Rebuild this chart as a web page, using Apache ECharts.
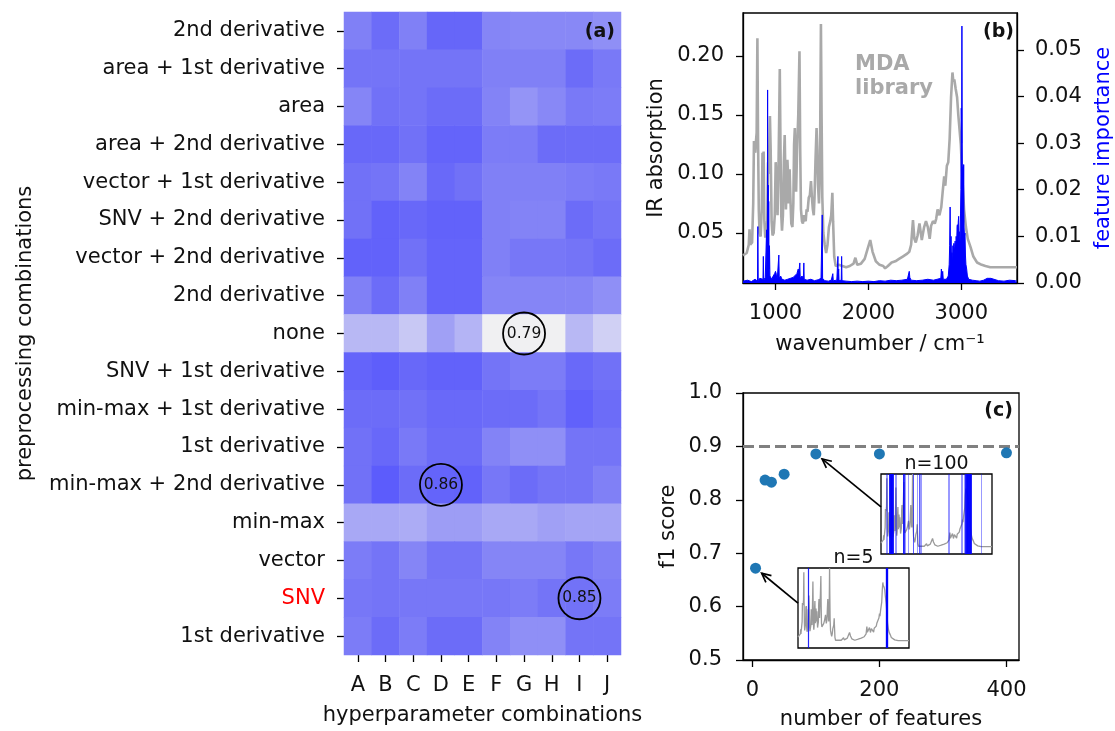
<!DOCTYPE html>
<html>
<head>
<meta charset="utf-8">
<script src="https://cdn.jsdelivr.net/npm/echarts@6/dist/echarts.min.js"></script>
<style>
  html, body { margin: 0; padding: 0; background: #ffffff; }
  #chart { width: 1115px; height: 731px; }
</style>
</head>
<body>
<div id="chart"></div>
<script>
// ---------- (a) f1 scores per preprocessing / hyperparameter combination ----------
const hyperparams = ['A', 'B', 'C', 'D', 'E', 'F', 'G', 'H', 'I', 'J'];
const preprocessing = [
  '2nd derivative', 'area + 1st derivative', 'area', 'area + 2nd derivative',
  'vector + 1st derivative', 'SNV + 2nd derivative', 'vector + 2nd derivative',
  '2nd derivative', 'none', 'SNV + 1st derivative', 'min-max + 1st derivative',
  '1st derivative', 'min-max + 2nd derivative', 'min-max', 'vector', 'SNV',
  '1st derivative'
];
// one row per preprocessing combination (top to bottom), columns A..J
const scoreRows = [
  [0.844, 0.854, 0.844, 0.858, 0.858, 0.842, 0.841, 0.841, 0.841, 0.838],
  [0.849, 0.849, 0.849, 0.849, 0.849, 0.844, 0.844, 0.844, 0.854, 0.847],
  [0.842, 0.851, 0.849, 0.854, 0.854, 0.843, 0.836, 0.841, 0.847, 0.846],
  [0.857, 0.857, 0.851, 0.860, 0.860, 0.846, 0.846, 0.854, 0.854, 0.854],
  [0.851, 0.849, 0.843, 0.856, 0.851, 0.844, 0.844, 0.844, 0.846, 0.847],
  [0.851, 0.861, 0.857, 0.861, 0.861, 0.844, 0.843, 0.843, 0.854, 0.849],
  [0.861, 0.861, 0.851, 0.860, 0.860, 0.844, 0.848, 0.848, 0.849, 0.854],
  [0.844, 0.854, 0.844, 0.860, 0.860, 0.842, 0.842, 0.842, 0.842, 0.838],
  [0.819, 0.819, 0.811, 0.831, 0.821, 0.790, 0.790, 0.790, 0.819, 0.807],
  [0.860, 0.864, 0.857, 0.861, 0.861, 0.849, 0.846, 0.846, 0.856, 0.851],
  [0.854, 0.854, 0.851, 0.856, 0.856, 0.854, 0.854, 0.849, 0.862, 0.854],
  [0.851, 0.857, 0.847, 0.854, 0.854, 0.843, 0.838, 0.838, 0.849, 0.849],
  [0.851, 0.865, 0.854, 0.860, 0.861, 0.848, 0.854, 0.849, 0.849, 0.844],
  [0.827, 0.827, 0.825, 0.832, 0.832, 0.827, 0.827, 0.831, 0.829, 0.829],
  [0.846, 0.849, 0.842, 0.849, 0.849, 0.842, 0.842, 0.842, 0.848, 0.844],
  [0.848, 0.849, 0.848, 0.848, 0.848, 0.848, 0.846, 0.849, 0.850, 0.846],
  [0.846, 0.854, 0.846, 0.854, 0.854, 0.843, 0.838, 0.838, 0.849, 0.849]
];
// circled cells: [column index, row index]
const circledCells = [[6, 8], [3, 12], [8, 15]];

// ---------- (b) MDA library spectrum and feature importance ----------
const irSpectrum = [
  [650,0.031],[690,0.033],[712,0.040],[720,0.053],[728,0.040],[748,0.042],[760,0.075],[768,0.128],
  [775,0.122],[782,0.118],[790,0.128],[797,0.135],[805,0.215],[812,0.130],[820,0.070],[828,0.050],
  [840,0.047],[852,0.070],[860,0.118],[866,0.112],[872,0.119],[880,0.060],[890,0.046],[900,0.047],
  [912,0.060],[920,0.110],[928,0.100],[935,0.130],[940,0.149],[948,0.120],[958,0.060],[968,0.048],
  [980,0.050],[992,0.065],[1002,0.110],[1012,0.090],[1022,0.065],[1032,0.105],[1040,0.150],[1046,0.189],
  [1054,0.120],[1062,0.065],[1070,0.052],[1080,0.065],[1090,0.110],[1099,0.133],[1106,0.100],[1112,0.070],
  [1120,0.090],[1128,0.112],[1135,0.100],[1142,0.075],[1152,0.104],[1160,0.080],[1170,0.058],[1182,0.055],
  [1192,0.075],[1200,0.125],[1208,0.139],[1214,0.110],[1222,0.085],[1232,0.120],[1245,0.150],[1258,0.204],
  [1266,0.120],[1274,0.070],[1285,0.060],[1295,0.058],[1305,0.065],[1315,0.062],[1325,0.060],[1335,0.070],
  [1345,0.068],[1358,0.080],[1370,0.082],[1382,0.094],[1392,0.080],[1402,0.070],[1412,0.065],[1420,0.080],
  [1430,0.110],[1442,0.139],[1450,0.120],[1458,0.090],[1468,0.075],[1478,0.100],[1489,0.227],[1496,0.150],
  [1504,0.080],[1515,0.050],[1530,0.040],[1545,0.033],[1560,0.040],[1575,0.055],[1590,0.060],[1600,0.065],
  [1612,0.084],[1620,0.060],[1632,0.030],[1648,0.022],[1680,0.023],[1720,0.022],[1760,0.021],[1800,0.022],
  [1840,0.024],[1860,0.029],[1880,0.023],[1920,0.024],[1960,0.028],[1990,0.036],[2020,0.044],[2045,0.034],
  [2080,0.026],[2120,0.023],[2160,0.022],[2180,0.020],[2210,0.022],[2250,0.025],[2290,0.026],[2330,0.028],
  [2370,0.030],[2410,0.032],[2440,0.034],[2460,0.040],[2480,0.061],[2495,0.045],[2510,0.042],[2530,0.048],
  [2550,0.058],[2575,0.044],[2600,0.055],[2620,0.060],[2640,0.055],[2660,0.045],[2675,0.056],[2695,0.060],
  [2715,0.058],[2730,0.062],[2745,0.070],[2765,0.065],[2785,0.072],[2800,0.085],[2816,0.098],[2828,0.090],
  [2845,0.107],[2860,0.110],[2875,0.130],[2890,0.165],[2905,0.186],[2915,0.178],[2925,0.180],[2940,0.172],
  [2955,0.165],[2968,0.150],[2980,0.150],[2995,0.125],[3011,0.098],[3030,0.070],[3050,0.055],[3070,0.045],
  [3100,0.038],[3130,0.030],[3170,0.025],[3220,0.023],[3260,0.022],[3312,0.021],[3400,0.021],[3500,0.021],
  [3600,0.021]
];
const featureImportance = [
  [650,0.0004],[700,0.0006],[740,0.0003],[780,0.0008],[800,0.0010],[806,0.0004],[810,0.0121],[814,0.0005],
  [830,0.0010],[850,0.0006],[865,0.0008],[869,0.0057],[873,0.0006],[890,0.0012],[900,0.0010],[904,0.0114],
  [907,0.0020],[912,0.0060],[915,0.0414],[918,0.0030],[921,0.0210],[924,0.0040],[927,0.0175],[930,0.0030],
  [935,0.0080],[940,0.0015],[950,0.0012],[960,0.0008],[975,0.0015],[990,0.0020],[1000,0.0025],[1010,0.0018],
  [1020,0.0012],[1032,0.0010],[1036,0.0060],[1040,0.0010],[1055,0.0015],[1070,0.0008],[1085,0.0012],[1100,0.0006],
  [1130,0.0008],[1160,0.0010],[1190,0.0012],[1210,0.0015],[1230,0.0020],[1245,0.0030],[1250,0.0020],[1262,0.0043],
  [1266,0.0010],[1285,0.0015],[1300,0.0010],[1305,0.0043],[1309,0.0008],[1340,0.0006],[1380,0.0008],[1420,0.0005],
  [1460,0.0007],[1490,0.0010],[1500,0.0008],[1503,0.0146],[1507,0.0010],[1530,0.0005],[1570,0.0004],[1600,0.0006],
  [1617,0.0020],[1622,0.0005],[1660,0.0006],[1672,0.0057],[1676,0.0010],[1680,0.0030],[1684,0.0005],[1708,0.0006],
  [1712,0.0057],[1716,0.0005],[1760,0.0004],[1820,0.0003],[1880,0.0004],[1940,0.0003],[2000,0.0004],[2060,0.0003],
  [2120,0.0005],[2180,0.0004],[2240,0.0006],[2300,0.0005],[2360,0.0006],[2420,0.0008],[2440,0.0025],[2446,0.0012],
  [2460,0.0006],[2520,0.0005],[2580,0.0006],[2640,0.0008],[2700,0.0006],[2740,0.0008],[2780,0.0010],[2786,0.0030],
  [2790,0.0010],[2800,0.0025],[2806,0.0008],[2840,0.0008],[2860,0.0015],[2870,0.0040],[2875,0.0080],[2880,0.0163],
  [2884,0.0060],[2890,0.0100],[2895,0.0050],[2900,0.0065],[2905,0.0040],[2910,0.0080],[2915,0.0060],[2920,0.0085],
  [2925,0.0060],[2929,0.0079],[2934,0.0090],[2940,0.0070],[2945,0.0100],[2950,0.0080],[2955,0.0120],[2958,0.0125],
  [2962,0.0090],[2967,0.0130],[2972,0.0143],[2976,0.0100],[2982,0.0110],[2987,0.0090],[2992,0.0150],[2996,0.0200],
  [3000,0.0375],[3004,0.0300],[3007,0.0551],[3011,0.0250],[3015,0.0200],[3018,0.0250],[3022,0.0150],[3026,0.0254],
  [3030,0.0120],[3035,0.0100],[3040,0.0107],[3045,0.0060],[3050,0.0040],[3058,0.0030],[3066,0.0015],[3080,0.0008],
  [3120,0.0006],[3160,0.0005],[3200,0.0004],[3240,0.0006],[3280,0.0010],[3300,0.0012],[3319,0.0010],[3340,0.0008],
  [3400,0.0005],[3460,0.0004],[3520,0.0006],[3580,0.0005],[3600,0.0004]
];
const wavenumberTicks = [1000, 2000, 3000];
const absorptionTicks = [0.05, 0.10, 0.15, 0.20];
const importanceTicks = [0, 0.01, 0.02, 0.03, 0.04, 0.05];

// ---------- (c) f1 score vs number of selected features ----------
const featureCounts = [5, 20, 30, 50, 100, 200, 400];
const f1Scores = [0.672, 0.837, 0.833, 0.848, 0.886, 0.886, 0.888];
const allFeaturesF1 = 0.896;
const featureCountTicks = [0, 200, 400];
const selectedTop5 = [915, 3000, 3007, 3018, 3026];
const selectedTop100 = [
  783, 812, 869, 872, 876, 880, 884, 888, 892, 896, 900, 904, 907, 910, 913, 915, 918, 921, 924, 927,
  930, 933, 936, 940, 944, 948, 952, 956, 960, 965, 970, 975, 979, 1036, 1050, 1230, 1238, 1245, 1250, 1256,
  1262, 1268, 1305, 1361, 1503, 1512, 1617, 1654, 1672, 1690, 1712, 2440, 2454, 2786, 2800, 2871, 2880, 2890,
  2898, 2902, 2906, 2910, 2914, 2918, 2922, 2926, 2929, 2932, 2936, 2940, 2944, 2948, 2952, 2955, 2958, 2962,
  2965, 2968, 2972, 2976, 2980, 2984, 2988, 2992, 2996, 3000, 3004, 3007, 3011, 3015, 3018, 3022, 3026, 3030,
  3034, 3038, 3042, 3046, 3049, 3319
];

// ---------- layout ----------
const FONT = 'DejaVu Sans';
const FS = 21;
const INK = '#111111';
const gridHeat = { left: 344, top: 12, width: 277, height: 650 };
const gridSpec = { left: 743, top: 13, width: 277, height: 270 };
const gridF1 = { left: 743, top: 393, width: 276, height: 270 };
const inset100 = { left: 881, top: 474, width: 111, height: 80 };
const inset5 = { left: 798, top: 568, width: 111, height: 80 };

const chart = echarts.init(document.getElementById('chart'), null, { renderer: 'canvas' });

const heatData = [];
scoreRows.forEach((row, r) => row.forEach((v, c) => heatData.push([c, r, v])));
const circleData = circledCells.map(([c, r]) => [c, r, scoreRows[r][c]]);

const tick = { show: true, length: 7, inside: false, lineStyle: { color: '#000', width: 1.3 } };
const axLine = { show: true, onZero: false, lineStyle: { color: '#000', width: 1.3 } };
const lbl = (extra) => Object.assign({ fontFamily: FONT, fontSize: FS, color: INK }, extra || {});
const nameStyle = (extra) => Object.assign({ fontFamily: FONT, fontSize: FS, color: INK }, extra || {});
const boxGrid = (g) => Object.assign({ show: true, borderColor: '#000', borderWidth: 1.3, backgroundColor: 'transparent', containLabel: false }, g);
const hiddenAxis = (gridIndex, min, max) => ({
  type: 'value', gridIndex, min, max,
  axisLine: { show: false, onZero: false }, axisTick: { show: false }, axisLabel: { show: false }, splitLine: { show: false }
});

const option = {
  backgroundColor: '#ffffff',
  animation: false,
  grid: [
    Object.assign({ show: false }, gridHeat),
    boxGrid(gridSpec),
    boxGrid(gridF1),
    boxGrid(inset100),
    boxGrid(inset5)
  ],
  visualMap: {
    type: 'continuous', show: false, seriesIndex: 0, dimension: 2,
    min: 0.79, max: 0.87,
    inRange: { color: ['#f0f0f2', '#cacaf4', '#a2a2f5', '#7272f7', '#5555fd'] }
  },
  xAxis: [
    {
      type: 'category', gridIndex: 0, data: hyperparams, position: 'bottom',
      axisLine: { show: false, onZero: false }, axisTick: Object.assign({ alignWithLabel: true }, tick),
      axisLabel: lbl({ margin: 20 }), splitLine: { show: false },
      name: 'hyperparameter combinations', nameLocation: 'middle', nameGap: 50, nameTextStyle: nameStyle()
    },
    {
      type: 'value', gridIndex: 1, min: 650, max: 3600,
      axisLine: axLine,
      axisTick: Object.assign({ customValues: wavenumberTicks }, tick),
      axisLabel: lbl({ margin: 20, customValues: wavenumberTicks, formatter: v => String(v) }),
      splitLine: { show: false },
      name: 'wavenumber / cm\u207B\u00B9', nameLocation: 'middle', nameGap: 51, nameTextStyle: nameStyle()
    },
    {
      type: 'value', gridIndex: 2, min: -14.75, max: 419.75,
      axisLine: axLine,
      axisTick: Object.assign({ customValues: featureCountTicks }, tick),
      axisLabel: lbl({ margin: 20, customValues: featureCountTicks, formatter: v => String(v) }),
      splitLine: { show: false },
      name: 'number of features', nameLocation: 'middle', nameGap: 49, nameTextStyle: nameStyle()
    },
    hiddenAxis(3, 650, 3600),
    hiddenAxis(4, 650, 3600)
  ],
  yAxis: [
    {
      type: 'category', gridIndex: 0, inverse: true,
      data: preprocessing.map((_, i) => 'row' + i),
      axisLine: { show: false, onZero: false }, axisTick: Object.assign({ alignWithLabel: true }, tick),
      axisLabel: lbl({
        margin: 19,
        formatter: (v, i) => preprocessing[i] === 'SNV' ? '{red|SNV}' : preprocessing[i],
        rich: { red: { color: '#ff0000', fontFamily: FONT, fontSize: FS } }
      }),
      splitLine: { show: false },
      name: 'preprocessing combinations', nameLocation: 'middle', nameRotate: 90, nameGap: 308,
      nameTextStyle: nameStyle()
    },
    {
      type: 'value', gridIndex: 1, position: 'left', min: 0.0076, max: 0.2364,
      axisLine: axLine,
      axisTick: Object.assign({ customValues: absorptionTicks }, tick),
      axisLabel: lbl({ margin: 19, customValues: absorptionTicks, formatter: v => v.toFixed(2) }),
      splitLine: { show: false },
      name: 'IR absorption', nameLocation: 'middle', nameRotate: 90, nameGap: 76, nameTextStyle: nameStyle()
    },
    {
      type: 'value', gridIndex: 1, position: 'right', min: 0, max: 0.0579,
      axisLine: axLine,
      axisTick: Object.assign({ customValues: importanceTicks }, tick),
      axisLabel: lbl({ margin: 18, customValues: importanceTicks, formatter: v => v.toFixed(2) }),
      splitLine: { show: false },
      name: 'feature importance', nameLocation: 'middle', nameRotate: 90, nameGap: 76,
      nameTextStyle: nameStyle({ color: '#0000ff' })
    },
    {
      type: 'value', gridIndex: 2, min: 0.5, max: 1.0, interval: 0.1,
      axisLine: axLine, axisTick: tick,
      axisLabel: lbl({ margin: 21, formatter: v => v.toFixed(1) }),
      splitLine: { show: false },
      name: 'f1 score', nameLocation: 'middle', nameRotate: 90, nameGap: 64, nameTextStyle: nameStyle()
    },
    hiddenAxis(3, 0, 0.227),
    hiddenAxis(4, 0, 0.227)
  ],
  series: [
    {
      name: 'f1', type: 'heatmap', xAxisIndex: 0, yAxisIndex: 0, data: heatData,
      itemStyle: { borderWidth: 0 }, emphasis: { disabled: true }, silent: true
    },
    {
      name: 'best', type: 'scatter', xAxisIndex: 0, yAxisIndex: 0, data: circleData,
      symbol: 'circle', symbolSize: 42, silent: true, z: 5,
      itemStyle: { color: 'rgba(0,0,0,0)', borderColor: '#000', borderWidth: 1.8, opacity: 1 },
      label: {
        show: true, position: 'inside', fontFamily: FONT, fontSize: 15.5, color: INK,
        formatter: p => p.value[2].toFixed(2)
      }
    },
    {
      name: 'MDA spectrum', type: 'line', xAxisIndex: 1, yAxisIndex: 1, data: irSpectrum,
      showSymbol: false, silent: true, z: 2,
      lineStyle: { color: '#a9a9a9', width: 2.6 }
    },
    {
      name: 'importance', type: 'line', xAxisIndex: 1, yAxisIndex: 2, data: featureImportance,
      showSymbol: false, silent: true, z: 3,
      lineStyle: { color: '#0000ff', width: 1 },
      areaStyle: { color: '#0000ff', opacity: 1 }
    },
    {
      name: 'f1 vs features', type: 'scatter', xAxisIndex: 2, yAxisIndex: 3,
      data: featureCounts.map((n, i) => [n, f1Scores[i]]),
      symbolSize: 11, z: 3, silent: true,
      itemStyle: { color: '#1f77b4', opacity: 1 },
      markLine: {
        silent: true, z: 1, symbol: ['none', 'none'], label: { show: false },
        lineStyle: { color: '#808080', type: [11, 5], width: 3 },
        data: [{ yAxis: allFeaturesF1 }]
      }
    },
    {
      name: 'top 100', type: 'line', xAxisIndex: 3, yAxisIndex: 4, data: irSpectrum,
      showSymbol: false, silent: true, lineStyle: { color: '#9a9a9a', width: 1.3 },
      markLine: {
        silent: true, symbol: ['none', 'none'], label: { show: false },
        lineStyle: { color: 'rgba(0,0,255,0.4)', type: 'solid', width: 1 },
        data: selectedTop100.map(w => ({ xAxis: w }))
      }
    },
    {
      name: 'top 5', type: 'line', xAxisIndex: 4, yAxisIndex: 5, data: irSpectrum,
      showSymbol: false, silent: true, lineStyle: { color: '#9a9a9a', width: 1.3 },
      markLine: {
        silent: true, symbol: ['none', 'none'], label: { show: false },
        lineStyle: { color: 'rgba(0,0,255,0.85)', type: 'solid', width: 1.2 },
        data: selectedTop5.map(w => ({ xAxis: w }))
      }
    }
  ]
};

chart.setOption(option);

// panel letters, spectrum caption, inset titles and arrows
const panelLetter = (txt, g, y) => ({
  type: 'text', z: 100, silent: true,
  style: { text: txt, x: g.left + g.width - 6, y: y, align: 'right', verticalAlign: 'middle',
           font: 'bold 19px "' + FONT + '"', fill: INK }
});
const insetTitle = (txt, g) => ({
  type: 'text', z: 100, silent: true,
  style: { text: txt, x: g.left + g.width / 2, y: g.top - 10, align: 'center', verticalAlign: 'middle',
           font: '19px "' + FONT + '"', fill: INK }
});

function arrowTo(fromPx, dataPt) {
  const p = chart.convertToPixel({ xAxisIndex: 2, yAxisIndex: 3 }, dataPt);
  const dx = fromPx[0] - p[0], dy = fromPx[1] - p[1];
  const len = Math.hypot(dx, dy);
  const ux = dx / len, uy = dy / len;
  const tip = [p[0] + ux * 8, p[1] + uy * 8];
  const head = 10, ang = 0.45;
  const rot = (a) => [ux * Math.cos(a) - uy * Math.sin(a), ux * Math.sin(a) + uy * Math.cos(a)];
  const r1 = rot(ang), r2 = rot(-ang);
  const style = { stroke: '#000', lineWidth: 1.7, fill: null };
  return [
    { type: 'line', z: 100, silent: true, shape: { x1: fromPx[0], y1: fromPx[1], x2: tip[0], y2: tip[1] }, style },
    { type: 'polyline', z: 100, silent: true,
      shape: { points: [[tip[0] + r1[0] * head, tip[1] + r1[1] * head], tip, [tip[0] + r2[0] * head, tip[1] + r2[1] * head]] },
      style }
  ];
}

chart.setOption({
  graphic: [
    panelLetter('(a)', gridHeat, 32),
    panelLetter('(b)', gridSpec, 32),
    panelLetter('(c)', gridF1, 411),
    {
      type: 'text', z: 100, silent: true,
      style: { text: 'MDA\nlibrary', x: 855, y: 53, lineHeight: 24, font: 'bold 21px "' + FONT + '"', fill: '#a9a9a9' }
    },
    insetTitle('n=100', inset100),
    insetTitle('n=5', inset5),
    ...arrowTo([inset100.left, inset100.top + inset100.height * 0.41], [featureCounts[4], f1Scores[4]]),
    ...arrowTo([inset5.left, inset5.top + inset5.height * 0.44], [featureCounts[0], f1Scores[0]])
  ]
});
</script>
</body>
</html>
